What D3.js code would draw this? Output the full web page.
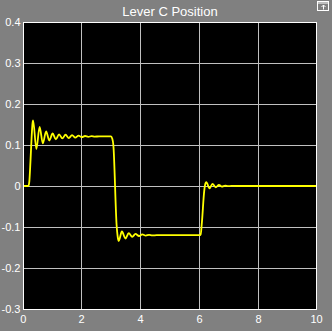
<!DOCTYPE html>
<html>
<head>
<meta charset="utf-8">
<script src="https://cdn.jsdelivr.net/npm/d3@7"></script>
<style>
html,body{margin:0;padding:0;background:#808080;overflow:hidden;}
svg{display:block;}
text{font-family:"Liberation Sans",Arial,sans-serif;fill:#ffffff;}
</style>
</head>
<body>
<script>
const title = "Lever C Position";
const xTicks = [0, 2, 4, 6, 8, 10];
const yTicks = [0.4, 0.3, 0.2, 0.1, 0, -0.1, -0.2, -0.3];
const yTickLabels = ["0.4", "0.3", "0.2", "0.1", "0", "-0.1", "-0.2", "-0.3"];

// time (s) and value of the trace
const times = [
  0, 0.20, 0.23, 0.27, 0.31, 0.34, 0.36,
  0.47, 0.58, 0.69, 0.80, 0.91, 1.02, 1.13, 1.24, 1.35, 1.46, 1.57, 1.68, 1.79, 1.90, 2.01, 2.12, 2.23, 2.34, 2.45, 2.60,
  3.00, 3.04, 3.08, 3.19, 3.23, 3.26,
  3.37, 3.49, 3.60, 3.72, 3.83, 3.95, 4.06, 4.18, 4.29, 4.40, 4.55,
  6.00, 6.04, 6.08, 6.16, 6.20, 6.23,
  6.34, 6.44, 6.55, 6.66, 6.76, 6.87, 6.97, 7.08, 7.25,
  10.0
];
const values = [
  0, 0, 0.010, 0.060, 0.120, 0.153, 0.160,
  0.090, 0.144, 0.104, 0.133, 0.111, 0.128, 0.114, 0.126, 0.116, 0.125, 0.117, 0.124, 0.118, 0.123, 0.119, 0.122, 0.120, 0.1215, 0.1205, 0.121,
  0.121, 0.116, 0.100, -0.095, -0.125, -0.134,
  -0.111, -0.128, -0.115, -0.124, -0.117, -0.122, -0.118, -0.121, -0.119, -0.1205, -0.120,
  -0.120, -0.118, -0.090, -0.012, 0.006, 0.0095,
  -0.0057, 0.005, -0.003, 0.0025, -0.0015, 0.001, -0.0005, 0.0003, 0,
  0
];

const W = 332, H = 331;
const svg = d3.select("body").append("svg").attr("width", W).attr("height", H);

const x = d3.scaleLinear().domain([0, 10]).range([22.5, 317.5]);
const y = d3.scaleLinear().domain([-0.3, 0.4]).range([309, 22]);

const pL = 23, pR = 316, pT = 22, pB = 309;

// plot background
svg.append("rect").attr("x", pL).attr("y", pT)
  .attr("width", pR - pL + 1).attr("height", pB - pT + 1)
  .attr("fill", "#000000");

// grid
const grid = svg.append("g").attr("stroke", "#c0c0c0").attr("stroke-width", 1).attr("shape-rendering", "crispEdges");
xTicks.slice(1, -1).forEach(t => {
  const px = Math.floor(x(t)) + 0.5;
  grid.append("line").attr("x1", px).attr("x2", px).attr("y1", pT).attr("y2", pB);
});
yTicks.slice(1, -1).forEach(t => {
  const py = Math.round(y(t)) + 0.5;
  grid.append("line").attr("y1", py).attr("y2", py).attr("x1", pL).attr("x2", pR + 1);
});

// trace
svg.append("clipPath").attr("id", "clip").append("rect")
  .attr("x", pL).attr("y", pT).attr("width", pR - pL + 1).attr("height", pB - pT + 1);
const pts = times.map((t, i) => [t, values[i]]);
const line = d3.line().x(d => x(d[0])).y(d => y(d[1])).curve(d3.curveMonotoneX);
svg.append("path").attr("d", line(pts)).attr("clip-path", "url(#clip)")
  .attr("fill", "none").attr("stroke", "#ffff00").attr("stroke-width", 1.8)
  .attr("stroke-linejoin", "round");

// frame
svg.append("rect").attr("x", pL + 0.5).attr("y", pT + 0.5)
  .attr("width", pR - pL).attr("height", pB - pT)
  .attr("fill", "none").attr("stroke", "#ffffff").attr("stroke-width", 1)
  .attr("shape-rendering", "crispEdges");

// y tick labels
svg.append("g").selectAll("text").data(yTicks).join("text")
  .attr("x", 20.5).attr("y", d => y(d) + 4)
  .attr("text-anchor", "end").attr("font-size", 11)
  .text((d, i) => yTickLabels[i]);

// x tick labels
svg.append("g").selectAll("text").data(xTicks).join("text")
  .attr("x", d => x(d) + (d === 0 ? 0.8 : d === 10 ? -1 : 0)).attr("y", 323)
  .attr("text-anchor", "middle").attr("font-size", 11)
  .text(d => d);

// title
svg.append("text").attr("x", (pL + pR) / 2 + 0.5).attr("y", 16)
  .attr("text-anchor", "middle").attr("font-size", 13).text(title);

// undock icon
const ic = svg.append("g").attr("stroke", "#ffffff").attr("fill", "none").attr("stroke-width", 1);
ic.append("rect").attr("x", 317.5).attr("y", 1.5).attr("width", 11).attr("height", 9);
ic.append("line").attr("x1", 317.5).attr("x2", 328.5).attr("y1", 3).attr("y2", 3);
ic.append("path").attr("d", "M323.5,9.5 L323.5,5 M321.5,7 L323.5,5 L325.5,7");
</script>
</body>
</html>
